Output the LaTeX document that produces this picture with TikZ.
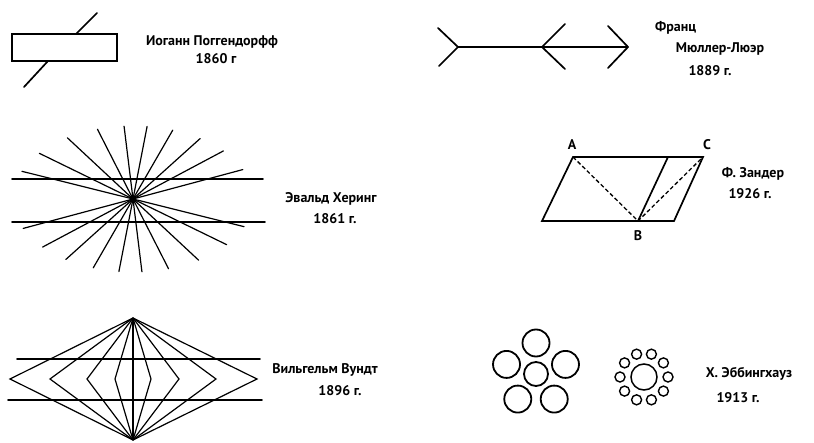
\documentclass[tikz,border=0pt]{standalone}
\usepackage{fontspec}
\setmainfont{PT Sans}
\usetikzlibrary{calc}

\begin{document}
\begin{tikzpicture}[
    x=1pt,
    y=-1pt,
    fig/.style={black, line width=1.7pt, line cap=round},
    bar/.style={black, line width=2.6pt},
    ray/.style={black, line width=1.2pt, line cap=round},
    dashline/.style={black, line width=1.3pt, dashed, dash pattern=on 4pt off 2.5pt},
    ring/.style={black, line width=1.8pt},
    txt/.style={inner sep=0pt, font=\fontsize{14}{16}\selectfont\bfseries},
    letter/.style={inner sep=0pt, font=\fontsize{14}{16}\selectfont\bfseries},
]

% Canvas
\useasboundingbox (0,0) rectangle (814,443);

% Poggendorff
\draw[bar] (12,34) rectangle (117,61);
\draw[fig] (76,34) -- (97,13);
\draw[fig] (48,61) -- (24,87);
\node[txt] (pogg) at (212,42) {Иоганн Поггендорфф};
\node[txt] (poggyr) at (216,59) {1860 г};

% Mueller-Lyer
\coordinate (ml1) at (458,47);
\coordinate (ml2) at (542,47);
\coordinate (ml3) at (628,47);
\draw[fig] (ml1) -- (ml3);
\draw[fig] (ml1) -- ++(-20,-19) (ml1) -- ++(-19,19);
\draw[fig] (ml2) -- ++(23,-23) (ml2) -- ++(23,22);
\draw[fig] (ml3) -- ++(-20,-21) (ml3) -- ++(-20,21);
\node[txt, anchor=west] (franz) at (655,28) {Франц};
\node[txt] (mueller) at (720,49) {Мюллер-Люэр};
\node[txt] (muelleryr) at (710,71) {1889 г.};

% Hering
\coordinate (hc) at (133,199);
\draw[fig] (12,179) -- (263,179);
\draw[fig] (12,222) -- (265,222);
\foreach \a in {15,28,42,60,79,97,117,137,154,166} {
    \pgfmathsetmacro\r{120*73/sqrt((73*cos(\a))^2+(120*sin(\a))^2)}
    \draw[ray] (hc) ++(-\a:\r) -- ++(180-\a:{2*\r});
}
\node[txt] (hering) at (331,199) {Эвальд Херинг};
\node[txt] (heringyr) at (335,219) {1861 г.};

% Zander
\coordinate (zbl) at (542,221);
\coordinate (zA) at (573,157);
\coordinate (zm) at (668,157);
\coordinate (zC) at (703,157);
\coordinate (zbr) at (674,221);
\coordinate (zB) at (638,221);
\draw[fig, line cap=butt] (zbl) -- (zA) -- (zC) -- (zbr) -- cycle;
\draw[fig] (zB) -- (zm);
\draw[dashline] (zA) -- (zB) -- (zC);
\node[letter] (la) at (572,145) {A};
\node[letter] (lc) at (707,145) {C};
\node[letter] (lb) at (638,236) {B};
\node[txt] (zander) at (753,174) {Ф. Зандер};
\node[txt] (zanderyr) at (750,194) {1926 г.};

% Wundt
\coordinate (wt) at (133,318);
\coordinate (wb) at (133,440);
\draw[fig] (17,359) -- (260,359);
\draw[fig] (8,400) -- (262,400);
\foreach \dx in {-123,-83,-46,-18,0,18,46,83,124}
    \draw[ray, line cap=butt] (wt) -- ({133+\dx},379) -- (wb);
\node[txt] (wundt) at (325,370) {Вильгельм Вундт};
\node[txt] (wundtyr) at (340,391) {1896 г.};

% Ebbinghaus
\coordinate (e1) at (536,374);
\draw[ring] (e1) circle (12);
\foreach \a in {-90,-18,54,126,198}
    \draw[ring] (e1) ++(\a:31) circle (13.5);
\coordinate (e2) at (644,377);
\draw[ring, line width=1.5pt] (e2) circle (13);
\foreach \a in {0,36,...,324}
    \draw[ring, line width=1.4pt] (e2) ++(\a:24) circle (5);
\node[txt] (ebb) at (749,374) {Х. Эббингхауз};
\node[txt] (ebbyr) at (738,398) {1913 г.};

\end{tikzpicture}
\end{document}
